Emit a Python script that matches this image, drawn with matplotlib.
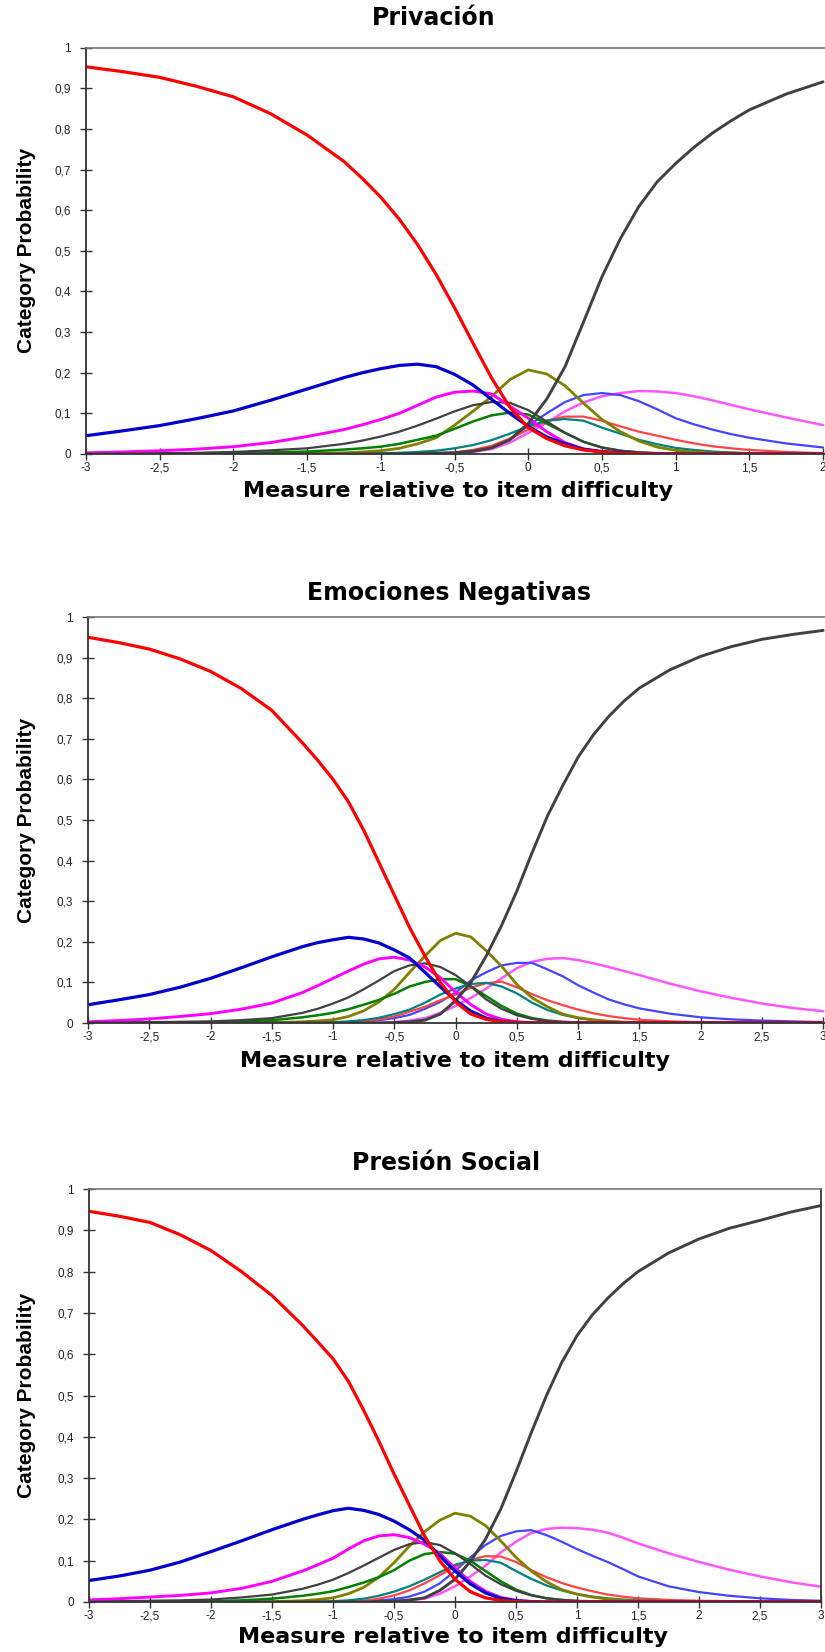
import numpy as np
import matplotlib
matplotlib.use("Agg")
import matplotlib.pyplot as plt
from matplotlib.ticker import FixedLocator, FuncFormatter

# --------------------
# data
# --------------------
x_priv = [-3, -2.75, -2.5, -2.25, -2, -1.75, -1.5, -1.25, -1.125, -1, -0.875, -0.75, -0.625, -0.5,
          -0.375, -0.25, -0.125, 0, 0.125, 0.25, 0.375, 0.5, 0.625, 0.75, 0.875, 1, 1.125, 1.25,
          1.375, 1.5, 1.75, 2]
x_full = x_priv + [2.25, 2.5, 2.75, 3]

z6, z8, z9, z10, z13, z14 = [0] * 6, [0] * 8, [0] * 9, [0] * 10, [0] * 13, [0] * 14

priv_c0 = [.953, .941, .927, .905, .879, .838, .785, .72, .678, .632, .578, .515, .442, .36, .273, .188, .115, .065, .038, .02, .01, .005, .002, .001] + z8
priv_c1 = [.045, .057, .07, .087, .106, .132, .16, .188, .2, .21, .218, .221, .215, .196, .17, .135, .1, .068, .042, .025, .012, .006, .003, .001] + z8
priv_c2 = [.003, .005, .008, .012, .018, .028, .043, .06, .072, .085, .1, .12, .14, .152, .155, .148, .118, .088, .055, .028, .012, .005, .002, .001] + z8
priv_c3 = [.001, .001, .002, .003, .005, .009, .014, .025, .033, .043, .055, .07, .087, .105, .12, .128, .126, .108, .08, .052, .03, .016, .008, .004, .002, .001] + z6
priv_c4 = [0, 0, .001, .001, .002, .004, .006, .011, .014, .018, .025, .035, .045, .062, .08, .095, .102, .097, .075, .052, .03, .016, .008, .004, .002, .001] + z6
priv_c5 = z6 + [.001, .003, .005, .008, .014, .025, .04, .071, .105, .141, .183, .207, .197, .168, .125, .085, .055, .032, .017, .009, .005, .003, .002, .001, 0, 0]
priv_c6 = [0] * 7 + [.001, .001, .002, .003, .005, .008, .014, .022, .034, .05, .068, .082, .086, .082, .065, .05, .035, .024, .015, .01, .006, .004, .002, .001, 0]
priv_c7 = z10 + [.001, .001, .002, .004, .01, .02, .038, .06, .082, .092, .092, .082, .068, .055, .045, .035, .026, .019, .014, .01, .005, .002]
priv_c8 = [0] * 11 + [.001, .001, .002, .006, .015, .035, .07, .1, .128, .145, .15, .145, .13, .11, .088, .073, .06, .049, .04, .026, .016]
priv_c9 = [0] * 12 + [.001, .002, .005, .012, .028, .052, .077, .105, .127, .142, .15, .155, .154, .15, .142, .132, .121, .11, .09, .071]
priv_c10 = [0] * 11 + [.001, .002, .003, .007, .015, .035, .075, .135, .215, .325, .436, .53, .609, .67, .715, .755, .79, .82, .847, .886, .916]

emo_c0 = [.95, .937, .921, .897, .866, .824, .77, .69, .647, .6, .545, .475, .395, .315, .235, .165, .1, .052, .022, .009, .003, .001] + z14
emo_c1 = [.045, .057, .07, .088, .11, .136, .163, .188, .198, .205, .211, .207, .197, .18, .16, .125, .089, .056, .029, .012, .004, .001] + z14
emo_c2 = [.003, .006, .01, .016, .023, .034, .049, .075, .092, .11, .128, .145, .158, .162, .155, .138, .112, .076, .045, .022, .009, .003, .001] + z13
emo_c3 = [.001, .001, .002, .003, .004, .007, .012, .025, .035, .048, .063, .083, .105, .128, .142, .147, .138, .118, .09, .058, .035, .019, .01, .005, .002, .001] + z10
emo_c4 = [0, 0, .001, .001, .002, .004, .007, .014, .019, .025, .034, .045, .057, .072, .09, .101, .108, .108, .09, .066, .042, .023, .012, .006, .003, .001] + z10
emo_c5 = z6 + [.001, .003, .005, .008, .016, .03, .052, .083, .125, .165, .203, .221, .212, .178, .14, .095, .062, .04, .022, .013, .008, .004, .002, .001] + z6
emo_c6 = [0] * 7 + [.001, .001, .002, .004, .007, .013, .022, .033, .05, .07, .085, .096, .099, .09, .073, .05, .032, .02, .012, .007, .004, .002, .001] + z6
emo_c7 = z10 + [.001, .003, .009, .016, .028, .04, .056, .07, .087, .098, .102, .088, .071, .056, .044, .033, .024, .017, .012, .008, .004, .002, .001, 0, 0, 0]
emo_c8 = z9 + [.001, .002, .004, .007, .012, .02, .035, .052, .075, .105, .125, .142, .148, .148, .132, .115, .093, .075, .058, .046, .036, .023, .014, .009, .006, .004, .002]
emo_c9 = [0] * 12 + [.001, .002, .006, .012, .025, .042, .062, .085, .11, .135, .151, .158, .16, .155, .147, .138, .128, .118, .097, .078, .062, .048, .037, .029]
emo_c10 = z13 + [.001, .003, .007, .022, .055, .1, .165, .24, .325, .42, .51, .585, .655, .71, .755, .793, .825, .87, .903, .927, .945, .957, .967]

pres_c0 = [.946, .934, .919, .889, .851, .8, .742, .67, .63, .589, .535, .465, .39, .31, .235, .16, .1, .055, .025, .01, .004, .001] + z14
pres_c1 = [.052, .063, .077, .097, .122, .148, .175, .2, .211, .221, .227, .222, .212, .196, .175, .15, .112, .075, .044, .022, .009, .003, .001] + z13
pres_c2 = [.005, .008, .012, .016, .022, .033, .05, .075, .09, .106, .128, .148, .16, .163, .156, .14, .118, .082, .05, .026, .011, .004, .001] + z13
pres_c3 = [.001, .002, .003, .004, .006, .011, .018, .032, .042, .054, .07, .088, .107, .126, .14, .145, .138, .118, .092, .064, .043, .027, .016, .009, .005, .003, .002, .001] + z8
pres_c4 = [0, 0, .001, .001, .002, .004, .008, .015, .02, .026, .036, .047, .06, .077, .1, .116, .121, .117, .1, .075, .05, .03, .017, .009, .005, .002, .001] + z9
pres_c5 = z6 + [.001, .003, .006, .01, .02, .035, .06, .095, .135, .17, .198, .215, .208, .185, .148, .108, .075, .049, .03, .019, .012, .007, .004, .002, .001] + [0] * 5
pres_c6 = [0] * 7 + [.001, .001, .002, .004, .008, .015, .025, .038, .054, .072, .09, .1, .102, .095, .075, .056, .04, .028, .019, .013, .009, .006, .004, .002, .001] + [0] * 4
pres_c7 = z10 + [.001, .003, .008, .016, .028, .045, .065, .085, .102, .111, .11, .097, .077, .06, .046, .035, .026, .018, .013, .009, .005, .003, .002, .001, 0, 0]
pres_c8 = z10 + [.001, .002, .004, .007, .013, .025, .045, .075, .108, .138, .16, .171, .174, .162, .146, .128, .112, .097, .08, .062, .038, .024, .015, .009, .005, .003]
pres_c9 = [0] * 12 + [.001, .002, .004, .008, .02, .038, .062, .088, .12, .146, .167, .177, .18, .179, .175, .168, .156, .142, .118, .097, .078, .062, .048, .037]
pres_c10 = [0] * 12 + [.001, .002, .005, .01, .028, .055, .098, .152, .225, .315, .41, .5, .58, .645, .695, .735, .77, .8, .845, .879, .905, .924, .944, .96]

titles = ["Privación", "Emociones Negativas", "Presión Social"]

# --------------------
# styles per category (0 .. 10)
# --------------------
colors = ['#FF0000', '#0000CC', '#FF00FF', '#404040', '#008000', '#808000',
          '#008080', '#FF4444', '#4444FF', '#FF55FF', '#404040']
widths = [2.3, 2.3, 2.1, 1.6, 1.8, 2.0, 1.6, 1.6, 1.6, 1.8, 2.1]
draw_order = [9, 8, 7, 6, 5, 4, 3, 2, 10, 1, 0]

W, H = 825, 1652
fig = plt.figure(figsize=(W / 100, H / 100), dpi=100)

# pixel boxes: left, right, top, bottom, xmax
boxes = [(86, 826, 47.7, 454, 2.02),
         (88, 825, 617, 1023, 3.015),
         (89, 821, 1189, 1602, 3.0)]
title_pos = [(434, 18), (449, 593), (446, 1163)]
xlabel_pos = [(458, 491), (455, 1061), (453, 1637)]

panels = [
    (x_priv, [priv_c0, priv_c1, priv_c2, priv_c3, priv_c4, priv_c5, priv_c6, priv_c7, priv_c8, priv_c9, priv_c10]),
    (x_full, [emo_c0, emo_c1, emo_c2, emo_c3, emo_c4, emo_c5, emo_c6, emo_c7, emo_c8, emo_c9, emo_c10]),
    (x_full, [pres_c0, pres_c1, pres_c2, pres_c3, pres_c4, pres_c5, pres_c6, pres_c7, pres_c8, pres_c9, pres_c10]),
]


def comma(v, pos=None):
    return f"{v:g}".replace('.', ',')


for i, (xs, curves) in enumerate(panels):
    left, right, top, bottom, xmax = boxes[i]
    ax = fig.add_axes([left / W, 1 - bottom / H, (right - left) / W, (bottom - top) / H])

    for k in draw_order:
        ax.plot(xs, curves[k], color=colors[k], lw=widths[k],
                solid_capstyle='round', solid_joinstyle='round')

    ax.set_xlim(-3, xmax)
    ax.set_ylim(0, 1)
    ax.xaxis.set_major_locator(FixedLocator(np.arange(-3, 3.01, 0.5)))
    ax.yaxis.set_major_locator(FixedLocator(np.arange(0, 1.01, 0.1)))
    ax.xaxis.set_major_formatter(FuncFormatter(comma))
    ax.yaxis.set_major_formatter(FuncFormatter(comma))
    ax.tick_params(direction='inout', length=8, width=1, color='#333333',
                   labelsize=8.5, labelcolor='#222222')
    ax.tick_params(axis='y', pad=7)
    ax.tick_params(axis='x', pad=2)
    for lab in ax.get_xticklabels() + ax.get_yticklabels():
        lab.set_fontfamily('Liberation Sans')

    for s in ['left', 'bottom', 'right']:
        ax.spines[s].set_color('#333333')
        ax.spines[s].set_linewidth(1.3)
    ax.spines['top'].set_color('#777777')
    ax.spines['top'].set_linewidth(1.2)
    ax.spines['right'].set_visible(i == 2)

    tx, ty = title_pos[i]
    fig.text(tx / W, 1 - ty / H, titles[i], ha='center', va='center',
             fontsize=17, fontweight='bold', family='DejaVu Sans')
    lx, ly = xlabel_pos[i]
    fig.text(lx / W, 1 - ly / H, "Measure relative to item difficulty",
             ha='center', va='center', fontsize=16, fontweight='bold', family='DejaVu Sans')
    fig.text(27 / W, 1 - ((top + bottom) / 2) / H, "Category Probability",
             rotation=90, ha='center', va='center', fontsize=15, fontweight='bold',
             family='Liberation Sans')

fig.savefig('out.png', dpi=100)
